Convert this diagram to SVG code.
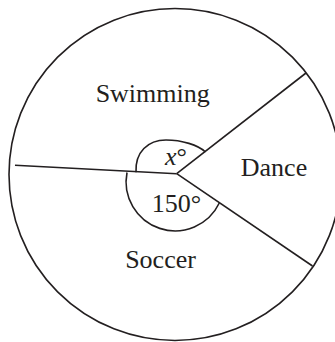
<svg xmlns="http://www.w3.org/2000/svg" width="335" height="342" viewBox="0 0 335 342">
  <style>
    .ln { fill: none; stroke: #231f20; stroke-width: 1.6; stroke-linecap: butt; }
    .lbl { font-family: "Liberation Serif", "Times New Roman", serif; font-size: 26px; fill: #231f20; text-anchor: middle; }
  </style>
  <rect width="335" height="342" fill="#ffffff"/>
  <g id="pie">
    <circle class="ln" cx="175" cy="174.5" r="166"/>
  </g>
  <g id="connectors">
    <line class="ln" x1="15" y1="165.3" x2="176.7" y2="173.7"/>
    <line class="ln" x1="176.7" y1="173.7" x2="306" y2="73"/>
    <line class="ln" x1="176.7" y1="173.7" x2="312.5" y2="266"/>
    <path class="ln" d="M136,172.2 C135,152 148,140 166,140 C182,140 198,145 205.5,152"/>
    <path class="ln" d="M127,172.5 A49,49 0 0 0 219.3,203"/>
  </g>
  <g id="swimming"><text class="lbl" x="152.7" y="101.7">Swimming</text></g>
  <g id="dance"><text class="lbl" x="274" y="176">Dance</text></g>
  <g id="soccer"><text class="lbl" x="160.5" y="267.7">Soccer</text></g>
  <g id="angle-x"><text class="lbl" x="165" y="165" style="text-anchor:start"><tspan font-style="italic">x</tspan>°</text></g>
  <g id="angle-150"><text class="lbl" x="151.7" y="212" style="text-anchor:start">150°</text></g>
</svg>
